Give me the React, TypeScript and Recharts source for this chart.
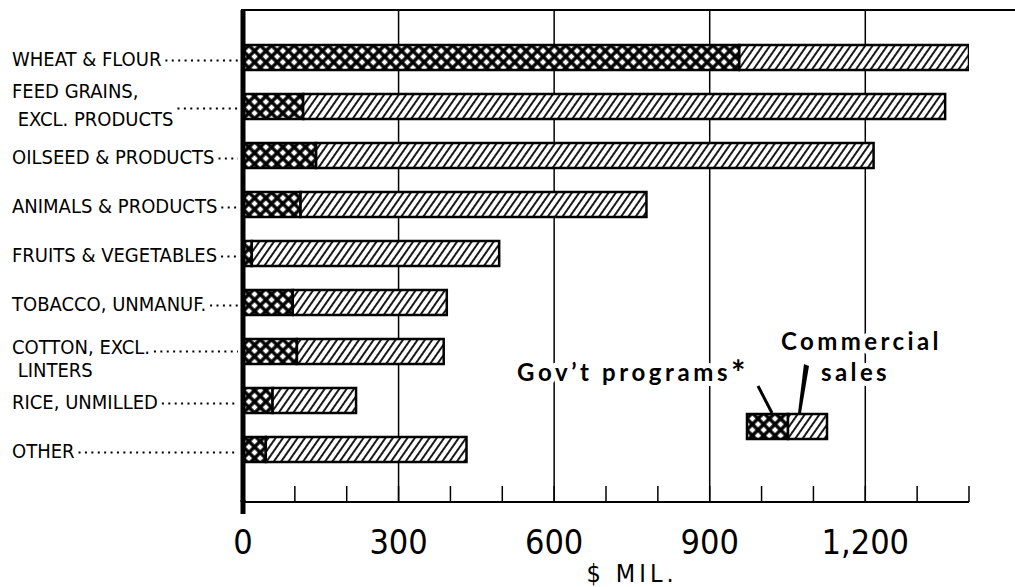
import React from 'react'
import { BarChart, Bar, XAxis, YAxis, CartesianGrid } from 'recharts'

const CATEGORIES = [
    'WHEAT & FLOUR',
    'FEED GRAINS, EXCL. PRODUCTS',
    'OILSEED & PRODUCTS',
    'ANIMALS & PRODUCTS',
    'FRUITS & VEGETABLES',
    'TOBACCO, UNMANUF.',
    'COTTON, EXCL. LINTERS',
    'RICE, UNMILLED',
    'OTHER',
]
const GOV_PROGRAMS = [957, 116, 141, 111, 17, 96, 104, 57, 44]
const COMMERCIAL = [443, 1238, 1075, 667, 477, 297, 283, 161, 387]

const X_TICKS = [0, 100, 200, 300, 400, 500, 600, 700, 800, 900, 1000, 1100, 1200, 1300, 1400]
const X_LABELS = [0, 300, 600, 900, 1200]
const GRID_VALUES = [300, 600, 900, 1200]

// how the two-line labels are broken up
const LABEL_LINES: Record<string, string[]> = {
    'FEED GRAINS, EXCL. PRODUCTS': ['FEED GRAINS,', ' EXCL. PRODUCTS'],
    'COTTON, EXCL. LINTERS': ['COTTON, EXCL.', ' LINTERS'],
}
// baseline offsets per line, which line carries the dotted leader, leader offset
const LABEL_LAYOUT: Record<string, { dy: number[]; leader: number; ly: number }> = {
    'FEED GRAINS, EXCL. PRODUCTS': { dy: [-9, 19], leader: 1, ly: 2 },
    'COTTON, EXCL. LINTERS': { dy: [2, 25], leader: 0, ly: 0 },
}

const LABEL_FONT = '"DejaVu Sans Condensed", "Liberation Sans Narrow", "DejaVu Sans", sans-serif'
const LEGEND_FONT = 'Lato, "Open Sans", sans-serif'

const data = CATEGORIES.map((name, i) => ({ name, gov: GOV_PROGRAMS[i], comm: COMMERCIAL[i] }))

let ctx: CanvasRenderingContext2D | null = null
function textWidth(s: string, size: number) {
    if (!ctx) ctx = document.createElement('canvas').getContext('2d')
    if (!ctx) return s.length * size * 0.55
    ctx.font = `${size}px ${LABEL_FONT}`
    return ctx.measureText(s).width
}

function YTick({ x, y, payload }: any) {
    const name: string = payload.value
    const lines = LABEL_LINES[name] ?? [name]
    const layout = LABEL_LAYOUT[name] ?? { dy: [8], leader: 0, ly: 3 }
    const startX = 12
    const leaderFrom = startX + textWidth(lines[layout.leader], 20) + 4
    return (
        <g>
            {lines.map((line, i) => (
                <text
                    key={i}
                    x={startX}
                    y={y + layout.dy[i]}
                    fontFamily={LABEL_FONT}
                    fontSize={20}
                    fill="#000"
                    style={{ whiteSpace: 'pre' }}
                >
                    {line}
                </text>
            ))}
            <line
                x1={leaderFrom}
                x2={x - 5}
                y1={y + layout.ly}
                y2={y + layout.ly}
                stroke="#000"
                strokeWidth={2}
                strokeDasharray="2 4.4"
            />
        </g>
    )
}

function XTick({ x, y, payload }: any) {
    const v: number = payload.value
    return (
        <g>
            {v !== 0 && <line x1={x} x2={x} y1={y} y2={y - 16} stroke="#000" strokeWidth={1.5} />}
            {X_LABELS.includes(v) && (
                <text x={x} y={y + 52} textAnchor="middle" fontFamily={LABEL_FONT} fontSize={34} fill="#000">
                    {v.toLocaleString('en-US')}
                </text>
            )}
        </g>
    )
}

const halo = { paintOrder: 'stroke', stroke: '#fff', strokeWidth: 10, strokeLinejoin: 'round' } as const

export default function App() {
    return (
        <div style={{ position: 'absolute', left: 0, top: 0, width: 1015, height: 587, background: '#fff' }}>
            <svg width={0} height={0} style={{ position: 'absolute' }}>
                <defs>
                    <pattern id="cross" width="8" height="8" patternUnits="userSpaceOnUse" patternTransform="rotate(45)">
                        <rect width="8" height="8" fill="#000" />
                        <rect x="1.7" y="1.7" width="4.6" height="4.6" fill="#fff" />
                    </pattern>
                    <pattern id="hatch" width="6" height="6" patternUnits="userSpaceOnUse" patternTransform="rotate(35)">
                        <rect width="6" height="6" fill="#fff" />
                        <line x1="3" y1="0" x2="3" y2="6" stroke="#000" strokeWidth="1.8" />
                    </pattern>
                </defs>
            </svg>

            <BarChart
                layout="vertical"
                width={1015}
                height={587}
                data={data}
                margin={{ top: 10, right: 46, bottom: 0, left: 0 }}
            >
                <CartesianGrid horizontal={false} verticalValues={GRID_VALUES} stroke="#000" strokeWidth={1.5} />
                <XAxis
                    type="number"
                    domain={[0, 1400]}
                    ticks={X_TICKS}
                    interval={0}
                    height={85}
                    tickSize={0}
                    tickMargin={0}
                    tickLine={false}
                    axisLine={{ stroke: '#000', strokeWidth: 2 }}
                    tick={<XTick />}
                    allowDataOverflow
                />
                <YAxis
                    type="category"
                    dataKey="name"
                    width={243}
                    interval={0}
                    tickSize={0}
                    tickMargin={0}
                    tickLine={false}
                    axisLine={{ stroke: '#000', strokeWidth: 5 }}
                    padding={{ top: 23, bottom: 28 }}
                    tick={<YTick />}
                />
                <Bar dataKey="gov" stackId="a" barSize={25} fill="url(#cross)" stroke="#000" strokeWidth={2.5} isAnimationActive={false} />
                <Bar dataKey="comm" stackId="a" barSize={25} fill="url(#hatch)" stroke="#000" strokeWidth={2.5} isAnimationActive={false} />
            </BarChart>

            <svg width={1015} height={587} style={{ position: 'absolute', left: 0, top: 0, pointerEvents: 'none' }}>
                {/* frame top and axis stub */}
                <line x1={241} x2={1015} y1={10} y2={10} stroke="#000" strokeWidth={2} />
                <line x1={243} x2={243} y1={500} y2={514} stroke="#000" strokeWidth={5} />

                <text x={632} y={582} textAnchor="middle" fontFamily={LABEL_FONT} fontSize={25} letterSpacing={4} fill="#000">
                    $ MIL.
                </text>

                {/* legend */}
                <text x={781} y={350} fontFamily={LEGEND_FONT} fontWeight={700} fontSize={24} letterSpacing={3.4} fill="#000" style={halo}>
                    Commercial
                </text>
                <text x={821} y={381} fontFamily={LEGEND_FONT} fontWeight={700} fontSize={24} letterSpacing={3.4} fill="#000" style={halo}>
                    sales
                </text>
                <text x={517} y={381} fontFamily={LEGEND_FONT} fontWeight={700} fontSize={24} letterSpacing={3.6} fill="#000" style={halo}>
                    Gov’t programs<tspan fontSize={34} dy={4}>*</tspan>
                </text>
                <line x1={758} y1={386} x2={772} y2={413} stroke="#000" strokeWidth={3} />
                <polygon points="804,364 809,366 801,413 798,413" fill="#000" />
                <rect x={747} y={414} width={41} height={25} fill="url(#cross)" stroke="#000" strokeWidth={2.5} />
                <rect x={788} y={414} width={39} height={25} fill="url(#hatch)" stroke="#000" strokeWidth={2.5} />
            </svg>
        </div>
    )
}
